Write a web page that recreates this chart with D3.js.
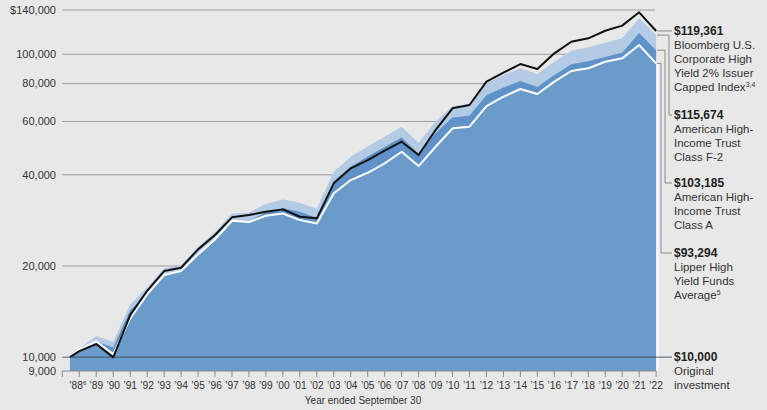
<!DOCTYPE html>
<html><head><meta charset="utf-8">
<script src="https://cdn.jsdelivr.net/npm/d3@7"></script>
<style>
body{margin:0;background:#e8e8e8;}
svg{display:block;font-family:"Liberation Sans",Arial,sans-serif;}
</style></head><body>
<svg id="c" width="767" height="410"></svg>
<script>
// Fiscal years (year ended Sept 30); first point is the fund's inception in 1988
const years = [1987.45, 1988, 1989, 1990, 1991, 1992, 1993, 1994, 1995, 1996, 1997, 1998, 1999, 2000, 2001, 2002, 2003, 2004, 2005, 2006, 2007, 2008, 2009, 2010, 2011, 2012, 2013, 2014, 2015, 2016, 2017, 2018, 2019, 2020, 2021, 2022];
const indexValues = [10000, 10470, 11045, 9980, 13760, 16560, 19240, 19730, 22690, 25300, 28940, 29450, 30200, 30750, 29080, 28720, 37480, 42010, 44740, 48100, 51430, 46480, 56220, 66300, 67980, 81190, 86940, 92850, 89400, 100700, 110000, 112900, 119600, 124300, 137560, 119361];
const classF2Values = [10000, 10690, 11740, 11240, 14950, 16990, 19640, 20090, 23100, 25900, 29830, 30000, 32030, 33190, 32340, 30900, 40930, 45870, 49660, 53430, 57660, 51040, 59880, 67460, 68500, 80370, 85410, 89880, 86060, 94500, 102730, 105420, 109170, 112880, 131460, 115674];
const classAValues = [9625, 10290, 11280, 10770, 14290, 16200, 18690, 19080, 21880, 24480, 28120, 28220, 30050, 31080, 30220, 28800, 38070, 42550, 45980, 49380, 53140, 46950, 54940, 61780, 62610, 73260, 77720, 81560, 77950, 85370, 92630, 94890, 98000, 101150, 117480, 103185];
const lipperValues = [10000, 10610, 11270, 10230, 13430, 16120, 18660, 19240, 21840, 24480, 28200, 27930, 29300, 29800, 28350, 27640, 34740, 38430, 40620, 43630, 47660, 42740, 49510, 56930, 57660, 67460, 72400, 76770, 73910, 81190, 88050, 89880, 94500, 96940, 107300, 93294];

const yTickValues = [9000, 10000, 20000, 40000, 60000, 80000, 100000, 140000];
const yTickLabels = ["9,000", "10,000", "20,000", "40,000", "60,000", "80,000", "100,000", "$140,000"];
const xTickYears = d3.range(1987, 2023);
const xTickLabels = ["", "’88", "’89", "’90", "’91", "’92", "’93", "’94", "’95", "’96", "’97", "’98", "’99", "’00", "’01", "’02", "’03", "’04", "’05", "’06", "’07", "’08", "’09", "’10", "’11", "’12", "’13", "’14", "’15", "’16", "’17", "’18", "’19", "’20", "’21", "’22"];
const xAxisTitle = "Year ended September 30";

const endValues = ["$119,361", "$115,674", "$103,185", "$93,294", "$10,000"];
const endNames = [
  ["Bloomberg U.S.", "Corporate High", "Yield 2% Issuer", "Capped Index"],
  ["American High-", "Income Trust", "Class F-2"],
  ["American High-", "Income Trust", "Class A"],
  ["Lipper High", "Yield Funds", "Average"],
  ["Original", "investment"]
];
const endSups = ["3,4", "", "", "5", ""];

const svg = d3.select("#c");
const x = d3.scaleLinear().domain([1988, 2022]).range([79.3, 656.1]);
const y = d3.scaleLog().domain([9000, 140000]).range([371, 10]);
const textColor = "#333";

const xL = x(1987), xR = x(2022);

// gridlines
svg.append("g").selectAll("line").data(yTickValues.filter(v => v >= 20000)).join("line")
  .attr("x1", xL).attr("x2", xR - 1).attr("y1", d => y(d)).attr("y2", d => y(d))
  .attr("stroke", "#9c9c9c").attr("stroke-width", 1);

// y labels
svg.append("g").selectAll("text").data(yTickValues).join("text")
  .attr("x", 56).attr("y", d => y(d)).attr("dy", "0.35em")
  .attr("text-anchor", "end").attr("font-size", 11).attr("fill", textColor)
  .text((d, i) => yTickLabels[i]);

const pts = arr => years.map((yr, i) => ({yr, v: arr[i]}));
const area = d3.area().x(d => x(d.yr)).y0(y(9000)).y1(d => y(d.v));
const line = d3.line().x(d => x(d.yr)).y(d => y(d.v));

svg.append("path").attr("d", area(pts(classF2Values))).attr("fill", "#b4cbe5");
svg.append("path").attr("d", area(pts(classAValues))).attr("fill", "#5e92c8");
svg.append("path").attr("d", area(pts(lipperValues))).attr("fill", "#6a9bcb");

// right edge light strip
svg.append("line").attr("x1", xR + 1.5).attr("x2", xR + 1.5)
  .attr("y1", y(lipperValues[lipperValues.length - 1])).attr("y2", y(9000))
  .attr("stroke", "#f2f4f7").attr("stroke-width", 3);

svg.append("path").attr("d", line(pts(lipperValues))).attr("fill", "none")
  .attr("stroke", "#ffffff").attr("stroke-width", 2).attr("stroke-linejoin", "round");
svg.append("path").attr("d", line(pts(indexValues))).attr("fill", "none")
  .attr("stroke", "#111").attr("stroke-width", 2).attr("stroke-linejoin", "round");

// 10,000 line
svg.append("line").attr("x1", xL).attr("x2", 672).attr("y1", y(10000)).attr("y2", y(10000))
  .attr("stroke", "#2f3c48").attr("stroke-opacity", 0.8).attr("stroke-width", 1);

// x axis
const xAxis = svg.append("g");
xAxis.append("line").attr("x1", xL).attr("x2", xR).attr("y1", y(9000)).attr("y2", y(9000))
  .attr("stroke", "#8a8a8a");
xAxis.selectAll("line.t").data(xTickYears).join("line").attr("class", "t")
  .attr("x1", d => x(d)).attr("x2", d => x(d)).attr("y1", y(9000)).attr("y2", y(9000) + 6)
  .attr("stroke", "#8a8a8a");
const xt = xAxis.selectAll("text").data(xTickYears).join("text")
  .attr("x", d => x(d)).attr("y", 385).attr("dy", "0.35em")
  .attr("text-anchor", "middle").attr("font-size", 10.2).attr("fill", textColor)
  .text((d, i) => xTickLabels[i]);
xt.filter(d => d === 1988).attr("dx", -1.5)
  .append("tspan").attr("font-size", 6).attr("dy", "-0.6em").text("6");
svg.append("text").attr("x", (x(1987.45) + xR) / 2).attr("y", 400.5).attr("dy", "0.35em")
  .attr("text-anchor", "middle").attr("font-size", 10).attr("fill", textColor).text(xAxisTitle);

// leader lines and end labels
const labelX = 673;
const labelTops = [31, 115, 183, 253, 357];
const endVals = [indexValues, classF2Values, classAValues, lipperValues].map(a => a[a.length - 1]).concat([10000]);
const elbowX = [null, 669, 665, 661, null];
const leader = svg.append("g").attr("fill", "none").attr("stroke", "#8c8c8c").attr("stroke-width", 1);
endVals.forEach((v, i) => {
  if (i === 4) return;
  const y0 = y(v);
  if (elbowX[i] == null) {
    leader.append("path").attr("d", `M${xR + 1},${y0}H${labelX - 1}`);
  } else {
    leader.append("path").attr("d", `M${xR + 1},${y0}H${elbowX[i]}V${labelTops[i]}H${labelX - 1}`);
  }
});
endValues.forEach((val, i) => {
  const g = svg.append("g");
  g.append("text").attr("x", labelX + 1).attr("y", labelTops[i]).attr("dy", "0.35em")
    .attr("font-size", 12).attr("font-weight", 700).attr("fill", "#222").text(val);
  endNames[i].forEach((nm, j) => {
    const t = g.append("text").attr("x", labelX + 1).attr("y", labelTops[i] + 14 * (j + 1)).attr("dy", "0.35em")
      .attr("font-size", 11.5).attr("fill", textColor).text(nm);
    if (j === endNames[i].length - 1 && endSups[i]) {
      t.append("tspan").attr("font-size", 7).attr("dy", "-0.55em").text(endSups[i]);
    }
  });
});
</script>
</body></html>
